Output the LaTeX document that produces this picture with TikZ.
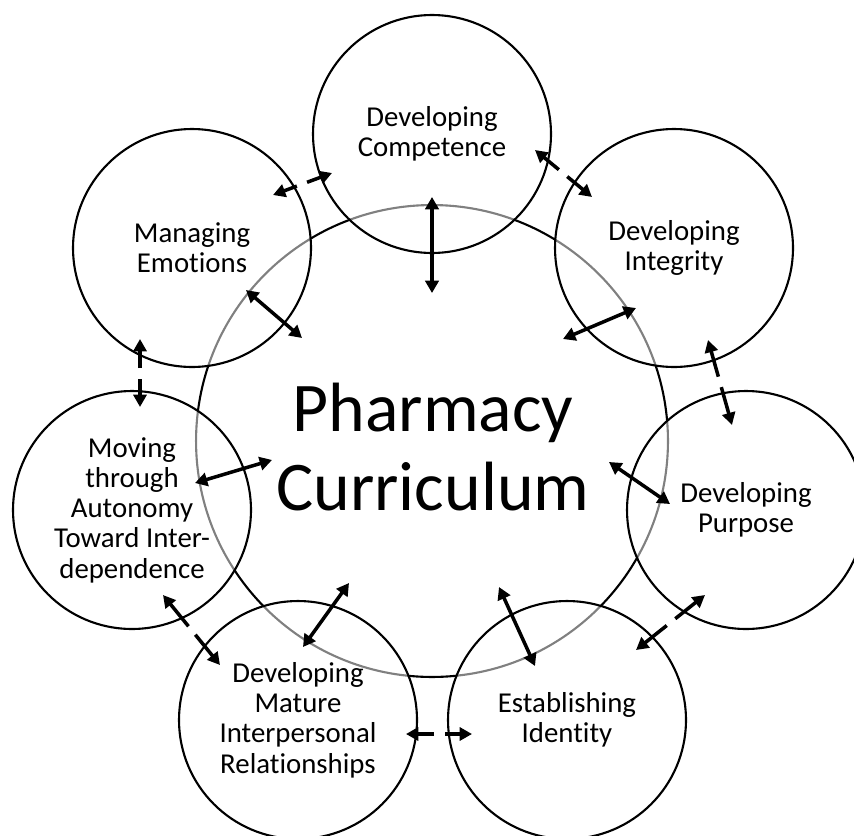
\documentclass[tikz,border=0pt]{standalone}
\usepackage{fontspec}
\setmainfont{Carlito}[Ligatures=NoCommon]
\usepackage{tikz}
\usetikzlibrary{arrows.meta,calc}

\begin{document}
\begin{tikzpicture}[
  x=0.02cm, y=-0.02cm,
  core/.style={circle, draw=black, line width=1.2pt, minimum size=9.44cm, inner sep=0pt},
  title/.style={align=center, font=\fontsize{39.7}{44.8}\selectfont},
  vector/.style={circle, draw=black, line width=1.2pt, fill=white, fill opacity=0.5, text opacity=1, minimum size=4.76cm, inner sep=0pt, align=center, font=\fontsize{16.4}{17.2}\selectfont},
  spoke/.style={{Triangle[length=7pt,width=7.6pt]}-{Triangle[length=7pt,width=7.6pt]}, line width=2pt},
  link/.style={{Triangle[length=7pt,width=7.4pt]}-{Triangle[length=7pt,width=7.4pt]}, line width=2pt}
]
  \useasboundingbox (0,0) rectangle (854,835);

  % the curriculum in the middle
  \node[core] (core) at (432,441) {};
  \node[title] (title) at (433,447) {Pharmacy\\Curriculum};

  % the seven vectors round it
  \node[vector] (comp) at (432,134) {Developing\\Competence};
  \node[vector] (integ) at (674,248) {Developing\\Integrity};
  \node[vector] (purp) at (746,510) {Developing\\Purpose};
  \node[vector] (ident) at (567,720) {Establishing\\Identity};
  \node[vector] (mature) at (298,720) {Developing\\Mature\\Interpersonal\\Relationships};
  \node[vector] (auton) at (132,510) {Moving\\through\\Autonomy\\Toward Inter-\\dependence};
  \node[vector] (emot) at (192,248) {Managing\\Emotions};

  % solid arrows: vector <-> curriculum
  \foreach \v/\ax/\ay/\bx/\by in {comp/432/197/432/293, integ/636/308/563/339,
      purp/670/504/609/462, ident/535/666/499/587, mature/303/647/349/583,
      auton/195/483/272/460, emot/246/290/302/338}{
    \coordinate (\v-out) at (\ax,\ay);
    \coordinate (\v-in) at (\bx,\by);
    \draw[spoke] (\v-out) -- (\v-in);
  }

  % dashed arrows between neighbours, one gap in the middle
  \foreach \p/\q/\ax/\ay/\bx/\by in {emot/comp/273/195/332/173, comp/integ/535/150/592/197,
      integ/purp/708/340/732/425, purp/ident/705/595/636/650, ident/mature/472/734/406/734,
      mature/auton/220/665/163/595, auton/emot/140/407/140/339}{
    \coordinate (\p-\q-a) at (\ax,\ay);
    \coordinate (\p-\q-b) at (\bx,\by);
    \pgfmathsetmacro{\dashon}{(veclen(\bx-\ax,\by-\ay)-35)*0.2835}
    \draw[link, dash pattern=on \dashon pt off 6.2pt on 80pt] (\p-\q-a) -- (\p-\q-b);
  }
\end{tikzpicture}
\end{document}
